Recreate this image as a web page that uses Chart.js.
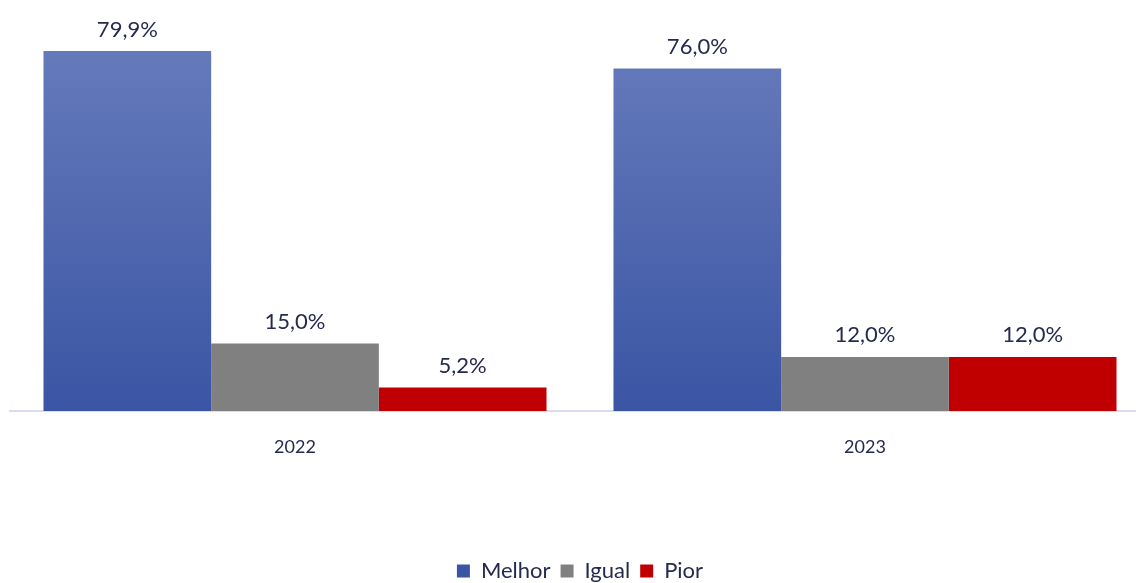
<!DOCTYPE html>
<html>
<head>
<meta charset="utf-8">
<script src="https://cdn.jsdelivr.net/npm/chart.js@4/dist/chart.umd.min.js"></script>
<style>
html,body{margin:0;padding:0;overflow:hidden;background:#fff;}
#wrap{width:1150px;height:583px;}
</style>
</head>
<body>
<div id="wrap"><canvas id="c" width="1150" height="583"></canvas></div>
<script>
const categories = ["2022", "2023"];
const melhor = [79.9, 76.0];
const igual = [15.0, 12.0];
const pior = [5.2, 12.0];
const seriesNames = ["Melhor", "Igual", "Pior"];

const textColor = "#262a4e";
const FONT = "Lato, 'Open Sans', sans-serif";

function blueGrad(ctx) {
  const chart = ctx.chart;
  const a = chart.chartArea;
  if (!a) return "#4a64ae";
  const g = chart.ctx.createLinearGradient(0, a.top, 0, a.bottom);
  g.addColorStop(0, "#6a7ebd");
  g.addColorStop(1, "#3a55a4");
  return g;
}

const labelPlugin = {
  id: "valueLabels",
  afterDatasetsDraw(chart) {
    const c = chart.ctx;
    c.save();
    c.font = "22px " + FONT;
    c.fillStyle = textColor;
    c.textAlign = "center";
    c.textBaseline = "alphabetic";
    chart.data.datasets.forEach((ds, i) => {
      const meta = chart.getDatasetMeta(i);
      meta.data.forEach((el, j) => {
        const v = ds.data[j];
        const txt = v.toFixed(1).replace(".", ",") + "%";
        c.fillText(txt, el.x, el.y - 14.5);
      });
    });
    c.restore();
  }
};

new Chart(document.getElementById("c"), {
  type: "bar",
  data: {
    labels: categories,
    datasets: [
      { label: seriesNames[0], data: melhor, backgroundColor: blueGrad },
      { label: seriesNames[1], data: igual, backgroundColor: "#808080" },
      { label: seriesNames[2], data: pior, backgroundColor: "#c00000" }
    ]
  },
  options: {
    responsive: false,
    animation: false,
    layout: { padding: { left: 10, right: 0, top: 10, bottom: -9 } },
    datasets: { bar: { categoryPercentage: 0.8825, barPercentage: 1.0 } },
    scales: {
      x: {
        grid: { display: false, drawTicks: false },
        border: { display: true, color: "#d9dbef", width: 2 },
        ticks: { color: textColor, font: { family: FONT, size: 18 }, padding: 25 },
        afterFit(scale) { scale.height = 139; }
      },
      y: {
        display: false,
        min: 0,
        max: 89
      }
    },
    plugins: {
      legend: {
        position: "bottom",
        labels: {
          color: textColor,
          font: { family: FONT, size: 22 },
          boxWidth: 13,
          boxHeight: 13,
          padding: 10
        }
      },
      tooltip: { enabled: false }
    }
  },
  plugins: [labelPlugin]
});
</script>
</body>
</html>
